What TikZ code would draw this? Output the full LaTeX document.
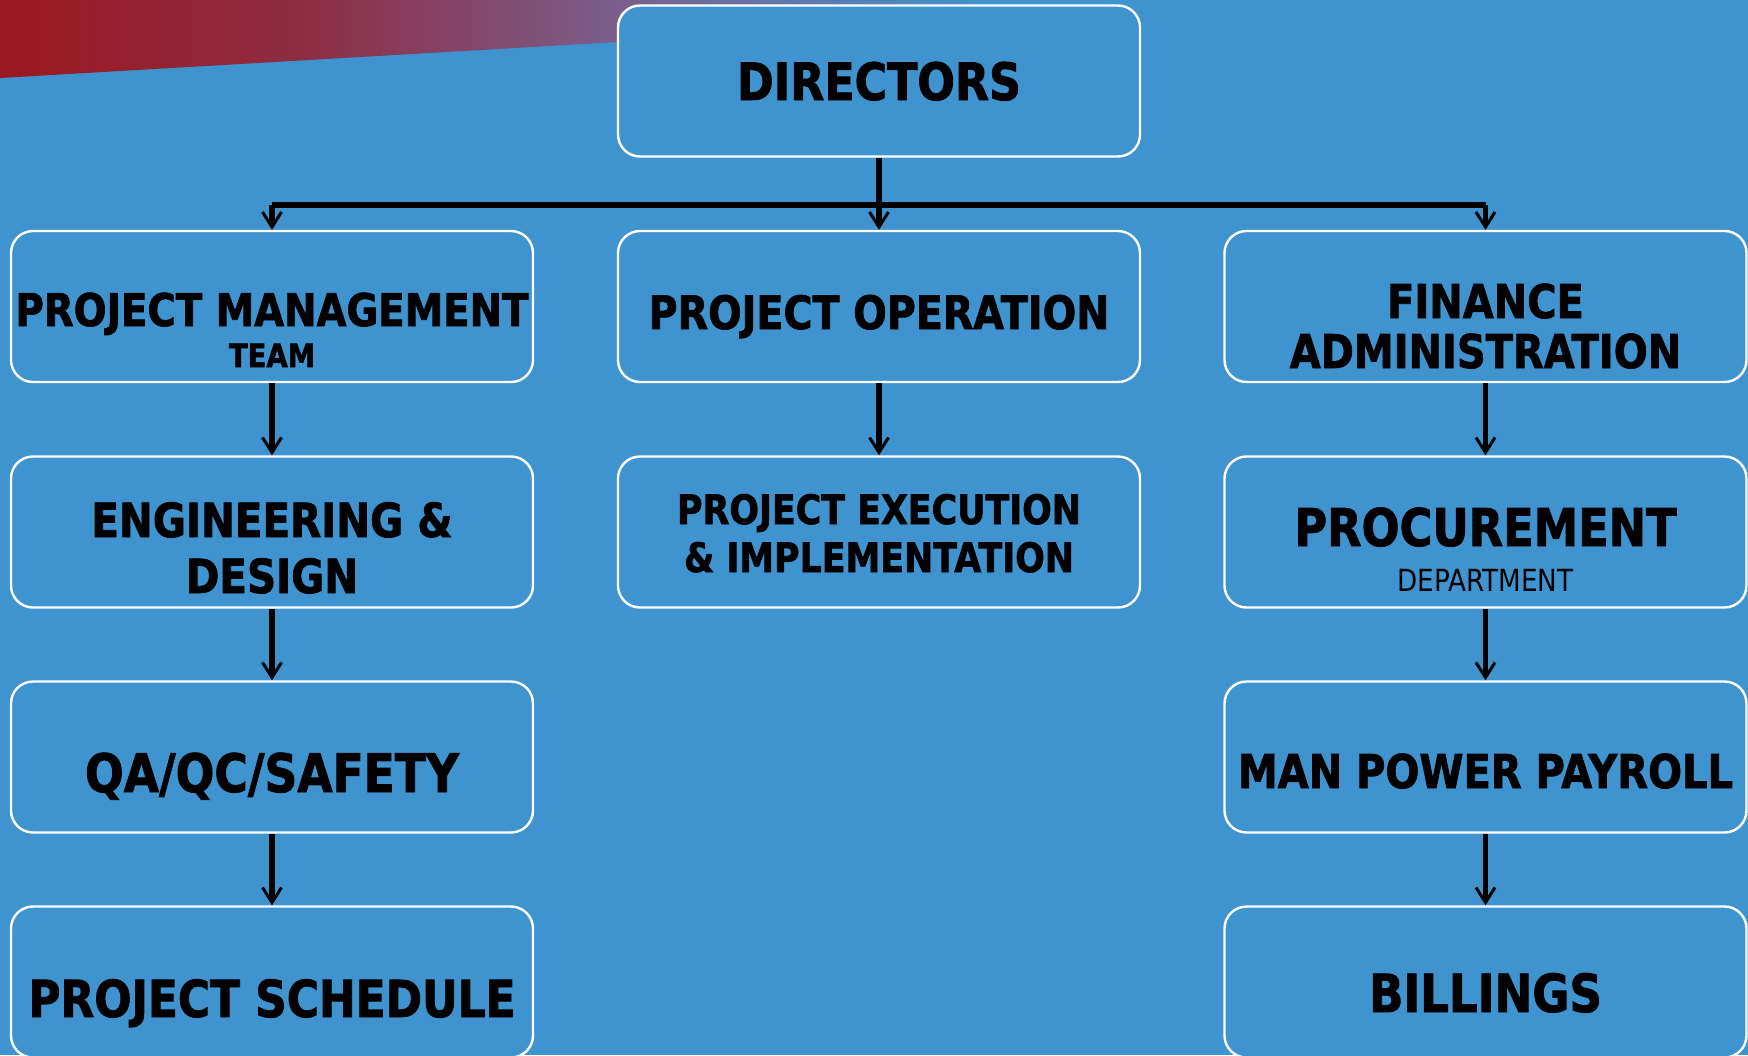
\documentclass[tikz,border=0pt]{standalone}
\usepackage{fontspec}
\setmainfont{DejaVu Sans}[FakeStretch=0.86, BoldFeatures={FakeBold=1.6}]
\usetikzlibrary{arrows.meta}
\definecolor{bg}{HTML}{3F94CF}
\definecolor{redL}{HTML}{9A1820}
\definecolor{redM}{HTML}{8E2C42}
\definecolor{purp}{HTML}{7B5E8B}
\pgfdeclarehorizontalshading{redfade}{100bp}{color(0bp)=(redL); color(25bp)=(redL); color(36bp)=(redM); color(48bp)=(purp); color(62bp)=(bg); color(100bp)=(bg)}
\begin{document}
\begin{tikzpicture}[x=1pt,y=-1pt,
  box/.style={draw=white, line width=2.4pt, rounded corners=22pt, fill=bg,
    minimum width=522pt, minimum height=151pt, inner sep=0pt},
  conn/.style={line width=5.5pt, black},
  arr/.style={conn, -{Straight Barb[length=15pt,width=19pt,line width=3pt]}},
  lbl/.style={font=\bfseries, text=black, inner sep=0pt, anchor=base},
  fs/.style={font=\fontsize{#1}{#1}\selectfont\bfseries}]
\useasboundingbox (0,0) rectangle (1748,1055);
\fill[bg] (0,0) rectangle (1748,1055);
\shade[shading=redfade] (0,0) -- (1340,0) -- (0,78) -- cycle;

% boxes
\node[box] (dir) at (879,81) {};
\node[box] (pm) at (272,306.5) {};
\node[box] (po) at (879,306.5) {};
\node[box] (fa) at (1485.5,306.5) {};
\node[box] (eng) at (272,532) {};
\node[box] (pei) at (879,532) {};
\node[box] (proc) at (1485.5,532) {};
\node[box] (qa) at (272,757) {};
\node[box] (mpp) at (1485.5,757) {};
\node[box] (ps) at (272,982) {};
\node[box] (bil) at (1485.5,982) {};

% labels
\node[lbl, fs=51.5] (tdir) at (879,100) {DIRECTORS};
\node[lbl, fs=45] (tpm) at (272,326) {PROJECT MANAGEMENT};
\node[lbl, fs=32] (tteam) at (272,367) {TEAM};
\node[lbl, fs=46] (tpo) at (879,329) {PROJECT OPERATION};
\node[lbl, fs=46.5] (tfa1) at (1485.5,318) {FINANCE};
\node[lbl, fs=46.5] (tfa2) at (1485.5,368) {ADMINISTRATION};
\node[lbl, fs=47] (teng1) at (272,537) {ENGINEERING \&};
\node[lbl, fs=47] (teng2) at (272,593) {DESIGN};
\node[lbl, fs=40.5] (tpei1) at (879,524) {PROJECT EXECUTION};
\node[lbl, fs=40.5] (tpei2) at (879,572) {\& IMPLEMENTATION};
\node[lbl, fs=52] (tproc) at (1485.5,546) {PROCUREMENT};
\node[lbl, font=\fontsize{30.5}{30.5}\selectfont\mdseries] (tdept) at (1485.5,591) {DEPARTMENT};
\node[lbl, fs=53] (tqa) at (272,792) {QA/QC/SAFETY};
\node[lbl, fs=46.5] (tmpp) at (1485.5,788) {MAN POWER PAYROLL};
\node[lbl, fs=51] (tps) at (272,1017) {PROJECT SCHEDULE};
\node[lbl, fs=52.5] (tbil) at (1485.5,1012) {BILLINGS};

% connectors
\coordinate (hub) at (879,205);
\draw[conn] (dir.south) -- (hub);
\draw[conn] (pm.north |- hub) -- (fa.north |- hub);
\draw[arr] (hub) -- (po.north);
\draw[arr] (pm.north |- hub) -- (pm.north);
\draw[arr] (fa.north |- hub) -- (fa.north);
\draw[arr] (pm.south) -- (eng.north);
\draw[arr] (eng.south) -- (qa.north);
\draw[arr] (qa.south) -- (ps.north);
\draw[arr] (po.south) -- (pei.north);
\draw[arr] (fa.south) -- (proc.north);
\draw[arr] (proc.south) -- (mpp.north);
\draw[arr] (mpp.south) -- (bil.north);
\end{tikzpicture}
\end{document}
